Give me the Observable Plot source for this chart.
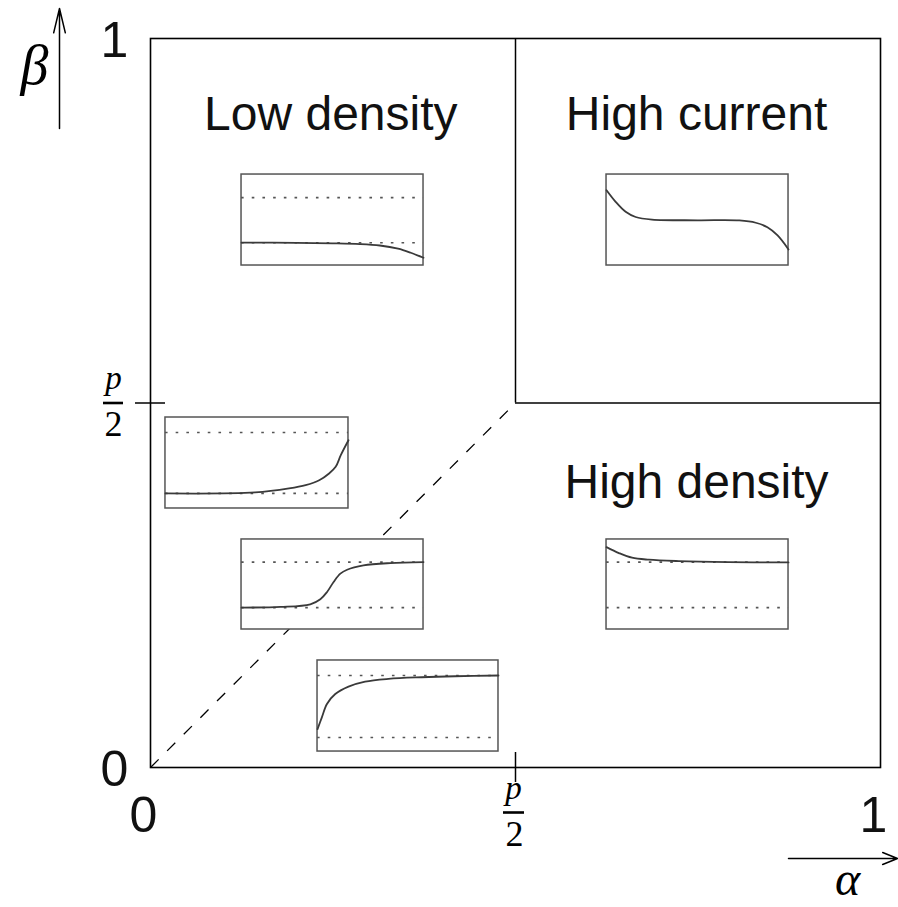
<!DOCTYPE html>
<html><head><meta charset="utf-8">
<script src="https://cdn.jsdelivr.net/npm/d3@7"></script>
<script src="https://cdn.jsdelivr.net/npm/@observablehq/plot@0.6"></script>
<style>body{margin:0;background:#fff}svg{overflow:visible}</style>
</head><body><div id="chart"></div>
<script>
// ---------- data ----------
const pHalf = 0.5;                       // phase boundary alpha = beta = p/2
const axisTickValues = [0, 1];
const regionNames = ["Low density", "High current", "High density"];

// density profiles: [lattice position (0..1), density (0..1)]
const profileLowDensity = [[0,0.252],[0.3,0.249],[0.5,0.244],[0.65,0.236],[0.76,0.22],[0.86,0.185],[0.93,0.14],[1,0.085]];
const profileHighCurrent = [[0,0.827],[0.05,0.70],[0.105,0.59],[0.16,0.533],[0.25,0.505],[0.5,0.497],[0.73,0.495],[0.82,0.47],[0.884,0.42],[0.94,0.33],[1,0.176]];
const profileLowDensityEdge = [[0,0.165],[0.49,0.176],[0.675,0.22],[0.766,0.256],[0.84,0.31],[0.894,0.385],[0.93,0.458],[0.958,0.586],[1,0.75]];
const profileShock = [[0,0.244],[0.214,0.251],[0.378,0.28],[0.433,0.336],[0.47,0.417],[0.506,0.528],[0.543,0.62],[0.58,0.664],[0.67,0.712],[0.817,0.738],[1,0.749]];
const profileHighDensity = [[0,0.915],[0.068,0.849],[0.14,0.797],[0.232,0.775],[0.397,0.76],[0.67,0.749],[1,0.745]];
const profileHighDensityEdge = [[0,0.246],[0.024,0.375],[0.052,0.522],[0.098,0.632],[0.171,0.713],[0.263,0.768],[0.392,0.798],[0.576,0.816],[0.76,0.827],[1,0.835]];

const insetProfiles = [profileLowDensity, profileHighCurrent, profileLowDensityEdge, profileShock, profileHighDensity, profileHighDensityEdge];
// bulk densities drawn as dotted reference levels in each inset
const insetBulkLevels = [[0.25, 0.747], [], [0.165, 0.835], [0.244, 0.749], [0.244, 0.749], [0.154, 0.835]];

// ---------- layout (positions, not data) ----------
const plotW = 730, plotH = 729;
const insetBoxes = [
  {x1: 0.1247, x2: 0.374, y1: 0.6886, y2: 0.8134},
  {x1: 0.6247, x2: 0.874, y1: 0.6886, y2: 0.8134},
  {x1: 0.0205, x2: 0.2712, y1: 0.3553, y2: 0.4801},
  {x1: 0.1247, x2: 0.374, y1: 0.1893, y2: 0.3128},
  {x1: 0.6247, x2: 0.874, y1: 0.1893, y2: 0.3128},
  {x1: 0.2288, x2: 0.4767, y1: 0.0219, y2: 0.1468}
];
const regionLabelPos = [[0.247, 0.874], [0.748, 0.874], [0.748, 0.370]];

// ---------- derived tables ----------
const profilePoints = insetProfiles.flatMap((prof, i) => {
  const b = insetBoxes[i];
  return prof.map(([t, v]) => ({inset: i, x: b.x1 + t * (b.x2 - b.x1), y: b.y1 + v * (b.y2 - b.y1)}));
});
const bulkLines = insetBulkLevels.flatMap((levels, i) => {
  const b = insetBoxes[i];
  return levels.map(v => ({x1: b.x1, x2: b.x2, y: b.y1 + v * (b.y2 - b.y1)}));
});
const regions = regionNames.map((name, i) => ({name, x: regionLabelPos[i][0], y: regionLabelPos[i][1]}));

const px = v => v / plotW, py = v => v / plotH;
const sans = "Liberation Sans, Arial, sans-serif";
const serif = "Liberation Serif, DejaVu Serif, serif";

const chart = Plot.plot({
  width: 898, height: 907,
  marginLeft: 150, marginRight: 18, marginTop: 38, marginBottom: 140,
  x: {domain: [0, 1], axis: null},
  y: {domain: [0, 1], axis: null},
  style: {background: "white", overflow: "visible"},
  marks: [
    // coexistence line (dashed) alpha = beta < p/2
    Plot.link([{x1: 0, y1: 0, x2: pHalf, y2: pHalf}], {x1: "x1", y1: "y1", x2: "x2", y2: "y2", stroke: "black", strokeWidth: 1.3, strokeDasharray: "11.5,12"}),
    // high current boundaries
    Plot.ruleX([pHalf], {y1: pHalf, y2: 1, stroke: "black", strokeWidth: 1.5}),
    Plot.ruleY([pHalf], {x1: pHalf, x2: 1, stroke: "black", strokeWidth: 1.5}),
    Plot.frame({stroke: "black", strokeWidth: 1.6}),
    // ticks at p/2
    Plot.ruleX([pHalf], {y1: -py(15), y2: py(15), stroke: "black", strokeWidth: 1.5}),
    Plot.ruleY([pHalf], {x1: -px(15), x2: px(15), stroke: "black", strokeWidth: 1.5}),
    // insets
    Plot.rect(insetBoxes, {x1: "x1", x2: "x2", y1: "y1", y2: "y2", fill: "white", stroke: "#555", strokeWidth: 1.5}),
    Plot.ruleY(bulkLines, {x1: "x1", x2: "x2", y: "y", stroke: "#555", strokeWidth: 1.7, strokeDasharray: "2.6,8.1"}),
    Plot.line(profilePoints, {x: "x", y: "y", z: "inset", curve: "catmull-rom", stroke: "#3a3a3a", strokeWidth: 1.8}),
    // region labels
    Plot.text(regions, {x: "x", y: "y", text: "name", fontSize: 48, fontFamily: sans, lineAnchor: "bottom", fill: "#111"}),
    // axis numbers
    Plot.text(axisTickValues, {x: d => d, y: 0, text: d => String(d), dx: -7, dy: 48, fontSize: 50, fontFamily: sans, fill: "#111"}),
    Plot.text(axisTickValues, {x: 0, y: d => d, text: d => String(d), dx: -36, dy: 2, fontSize: 50, fontFamily: sans, fill: "#111"}),
    // p/2 fractions
    Plot.text([pHalf], {x: 0, y: d => d, text: () => "p", dx: -37, dy: -14, lineAnchor: "bottom", fontSize: 33, fontStyle: "italic", fontFamily: serif}),
    Plot.text([pHalf], {x: 0, y: d => d, text: () => "2", dx: -37, dy: 33, lineAnchor: "bottom", fontSize: 36, fontFamily: serif}),
    Plot.ruleY([pHalf], {x1: -px(47), x2: -px(27), stroke: "black", strokeWidth: 2.6}),
    Plot.text([pHalf], {x: d => d, y: 0, text: () => "p", dx: -2, dy: 31, lineAnchor: "bottom", fontSize: 33, fontStyle: "italic", fontFamily: serif}),
    Plot.text([pHalf], {x: d => d, y: 0, text: () => "2", dx: -1, dy: 78, lineAnchor: "bottom", fontSize: 36, fontFamily: serif}),
    Plot.ruleY([-py(45)], {x1: pHalf - px(12), x2: pHalf + px(9), stroke: "black", strokeWidth: 2.6}),
    // axis arrows and greek labels
    Plot.arrow([{x1: -px(91), y1: py(639), x2: -px(91), y2: py(759)}], {x1: "x1", y1: "y1", x2: "x2", y2: "y2", stroke: "black", strokeWidth: 1.5, headLength: 25, headAngle: 27}),
    Plot.arrow([{x1: px(638), y1: -py(91), x2: px(747), y2: -py(91)}], {x1: "x1", y1: "y1", x2: "x2", y2: "y2", stroke: "black", strokeWidth: 1.5, headLength: 16, headAngle: 44}),
    Plot.text(["β"], {x: -px(116), y: py(684), text: d => d, lineAnchor: "bottom", fontSize: 56, fontStyle: "italic", fontFamily: serif}),
    Plot.text(["α"], {x: px(697), y: -py(127), text: d => d, lineAnchor: "bottom", fontSize: 48, fontStyle: "italic", fontFamily: serif})
  ]
});
document.getElementById("chart").appendChild(chart);
</script>
</body></html>
